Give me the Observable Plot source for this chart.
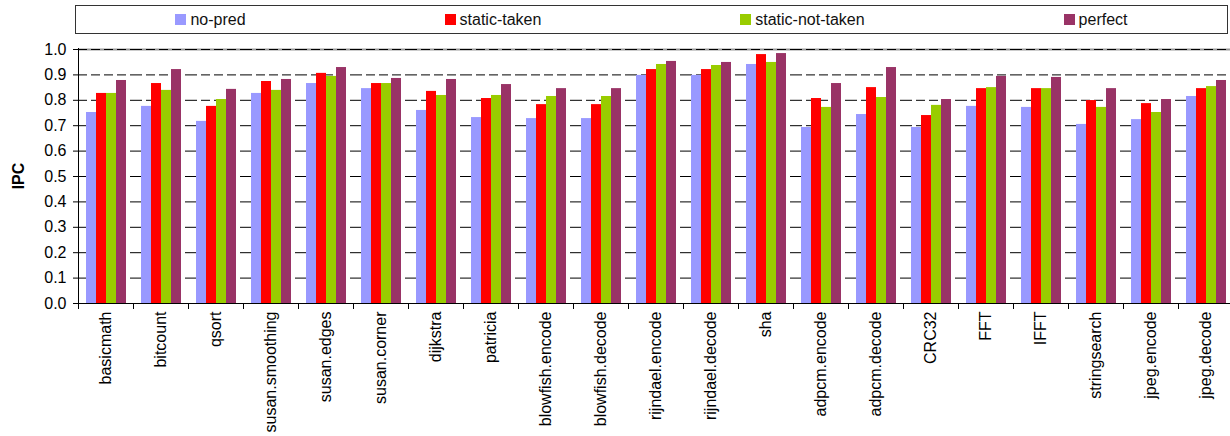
<!DOCTYPE html>
<html>
<head>
<meta charset="utf-8">
<script src="https://cdn.jsdelivr.net/npm/d3@7"></script>
<script src="https://cdn.jsdelivr.net/npm/@observablehq/plot@0.6"></script>
<style>
  html, body { margin: 0; padding: 0; background: #fff; overflow: hidden; }
  body { width: 1230px; height: 436px; font-family: "Liberation Sans", Arial, sans-serif; }
  .legend {
    box-sizing: border-box;
    margin: 5px 0 0 75px; width: 1153px; height: 29px;
    border: 1px solid #333;
    display: flex; justify-content: space-around; align-items: center;
    font-size: 16px; color: #111;
  }
  .legend span.item { display: flex; align-items: center; }
  .legend span.sw { display: inline-block; width: 11px; height: 11px; margin-right: 4px; }
  #chart { margin-top: 4px; }
  #chart svg text { font-family: "Liberation Sans", Arial, sans-serif; font-size: 16px; fill: #000; }
</style>
</head>
<body>
<div class="legend" id="legend"></div>
<div id="chart"></div>
<script>
const categories = ["basicmath","bitcount","qsort","susan.smoothing","susan.edges","susan.corner","dijkstra","patricia","blowfish.encode","blowfish.decode","rijndael.encode","rijndael.decode","sha","adpcm.encode","adpcm.decode","CRC32","FFT","IFFT","stringsearch","jpeg.encode","jpeg.decode"];
const series = ["no-pred","static-taken","static-not-taken","perfect"];
const colors = ["#9999FF","#FF0000","#99CC00","#993366"];
const noPred        = [0.752,0.776,0.717,0.827,0.866,0.846,0.760,0.732,0.728,0.728,0.898,0.898,0.941,0.693,0.744,0.693,0.776,0.772,0.705,0.724,0.815];
const staticTaken   = [0.827,0.866,0.776,0.874,0.906,0.866,0.835,0.807,0.783,0.783,0.921,0.921,0.980,0.807,0.850,0.740,0.846,0.846,0.799,0.787,0.846];
const staticNotTaken= [0.827,0.839,0.803,0.839,0.894,0.866,0.819,0.819,0.815,0.815,0.941,0.937,0.949,0.772,0.811,0.780,0.850,0.846,0.772,0.752,0.854];
const perfect       = [0.878,0.921,0.843,0.882,0.929,0.886,0.882,0.862,0.846,0.846,0.953,0.949,0.984,0.866,0.929,0.803,0.894,0.890,0.846,0.803,0.878];
const yTicks = [0.0,0.1,0.2,0.3,0.4,0.5,0.6,0.7,0.8,0.9,1.0];
const yLabel = "IPC";

const valuesBySeries = [noPred, staticTaken, staticNotTaken, perfect];
const data = categories.flatMap((c, i) => series.map((s, j) => ({category: c, series: s, ipc: valuesBySeries[j][i]})));

// Legend
const legend = document.getElementById("legend");
series.forEach((s, j) => {
  const it = document.createElement("span");
  it.className = "item";
  const sw = document.createElement("span");
  sw.className = "sw";
  sw.style.background = colors[j];
  it.appendChild(sw);
  it.appendChild(document.createTextNode(s));
  legend.appendChild(it);
});

const plot = Plot.plot({
  width: 1230,
  height: 398,
  marginLeft: 75,
  marginRight: -6,
  marginTop: 11,
  marginBottom: 133,
  style: {fontFamily: "'Liberation Sans', Arial, sans-serif", fontSize: "16px", color: "#000", background: "transparent"},
  facet: {data: data, x: "category"},
  fx: {domain: categories, padding: 0, tickRotate: -90, tickSize: 0, tickPadding: 8, label: null, axis: "bottom"},
  x: {domain: series, paddingInner: 0, paddingOuter: 0.745, axis: null},
  y: {domain: [0, 1], ticks: yTicks, tickFormat: d3.format(".1f"), tickSize: 5, tickPadding: 7, label: null},
  color: {domain: series, range: colors},
  marks: [
    Plot.ruleY([1], {stroke: "#999", strokeWidth: 2}),
    Plot.ruleY(yTicks.filter(v => v > 0), {stroke: "#000", strokeDasharray: "9,4"}),
    Plot.barY(data, {x: "series", y: "ipc", fill: "series"}),
    Plot.ruleY([0], {stroke: "#000"})
  ]
});
document.getElementById("chart").appendChild(plot);

// Axis line, category boundary ticks, y label (from the plot's own scales)
const fx = plot.scale("fx");
const y = plot.scale("y");
const svg = d3.select(plot);
const x0 = fx.apply(categories[0]);
const g = svg.append("g").attr("stroke", "#000");
g.append("line").attr("x1", x0 + 0.5).attr("x2", x0 + 0.5).attr("y1", y.apply(1) - 1).attr("y2", y.apply(0));
categories.forEach(c => {
  const xx = Math.round(fx.apply(c)) + 0.5;
  g.append("line").attr("x1", xx).attr("x2", xx).attr("y1", y.apply(0)).attr("y2", y.apply(0) + 6);
});
const yMid = (y.apply(0) + y.apply(1)) / 2;
svg.append("text")
  .attr("transform", `translate(24,${yMid}) rotate(-90)`)
  .attr("text-anchor", "middle")
  .style("font-weight", "bold")
  .text(yLabel);
</script>
</body>
</html>
